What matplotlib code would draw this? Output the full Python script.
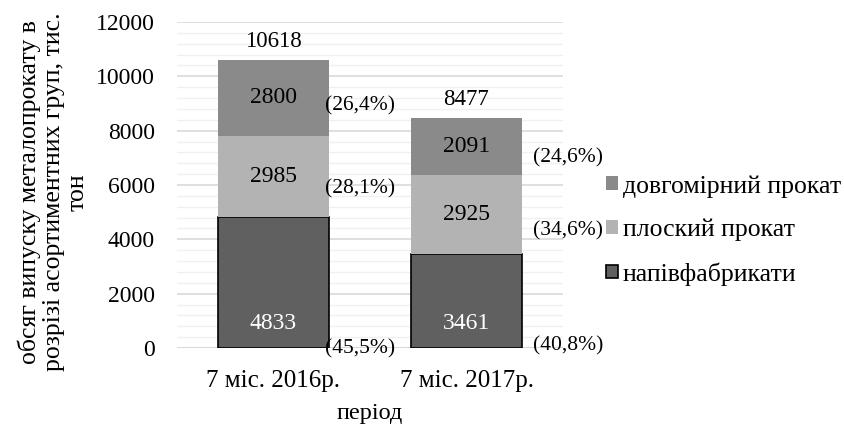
import numpy as np
import matplotlib.pyplot as plt
from matplotlib.ticker import MultipleLocator

plt.rcParams['font.family'] = ['Liberation Serif', 'DejaVu Serif']

periods = ['7 міс. 2016р.', '7 міс. 2017р.']
semi = [4833, 3461]
flat = [2985, 2925]
long_ = [2800, 2091]
totals = [10618, 8477]
pct_semi = ['(45,5%)', '(40,8%)']
pct_flat = ['(28,1%)', '(34,6%)']
pct_long = ['(26,4%)', '(24,6%)']

c_semi = '#606060'
c_flat = '#b3b3b3'
c_long = '#8a8a8a'

fig = plt.figure(figsize=(8.45, 4.28), dpi=100)
ax = fig.add_axes([177 / 845, 1 - 348 / 428, 386 / 845, 326 / 428])

x = np.arange(len(periods))
w = 0.575
semi_a = np.array(semi)
flat_a = np.array(flat)
long_a = np.array(long_)

ax.bar(x, semi_a, w, color=c_semi, edgecolor='black', linewidth=1.2,
       label='напівфабрикати', zorder=3)
ax.bar(x, flat_a, w, bottom=semi_a, color=c_flat, label='плоский прокат', zorder=3)
ax.bar(x, long_a, w, bottom=semi_a + flat_a, color=c_long,
       label='довгомірний прокат', zorder=3)

fs = 17
for i in range(len(x)):
    ax.text(x[i], 920, str(semi[i]), ha='center', va='center', color='white', fontsize=fs, zorder=4)
    ax.text(x[i], semi[i] + flat[i] / 2, str(flat[i]), ha='center', va='center', fontsize=fs, zorder=4)
    ax.text(x[i], semi[i] + flat[i] + long_[i] / 2, str(long_[i]), ha='center', va='center', fontsize=fs, zorder=4)
    ax.text(x[i], totals[i] + 680, str(totals[i]), ha='center', va='center', fontsize=16.5, zorder=4)

# percentage shares beside the bars
px = [0.448, 1.526]
py_semi = [-20, 80]
py_flat = [5850, 4330]
py_long = [8900, 7000]
for i in range(len(x)):
    ax.text(px[i], py_semi[i], pct_semi[i], ha='center', va='center', fontsize=15.5, clip_on=False, zorder=5)
    ax.text(px[i], py_flat[i], pct_flat[i], ha='center', va='center', fontsize=15.5, clip_on=False, zorder=5)
    ax.text(px[i], py_long[i], pct_long[i], ha='center', va='center', fontsize=15.5, clip_on=False, zorder=5)

ax.set_xlim(-0.5, 1.5)
ax.set_ylim(0, 12000)
ax.yaxis.set_major_locator(MultipleLocator(2000))
ax.yaxis.set_minor_locator(MultipleLocator(400))
ax.grid(axis='y', which='major', color='#d9d9d9', linewidth=1.2, zorder=0)
ax.grid(axis='y', which='minor', color='#f0f0f0', linewidth=1.0, zorder=0)
ax.set_axisbelow(True)
for s in ax.spines.values():
    s.set_visible(False)
ax.axhline(0, color='#d9d9d9', linewidth=1.5, zorder=1)
ax.tick_params(axis='both', which='both', length=0)
ax.tick_params(axis='y', pad=16, labelsize=17)
ax.tick_params(axis='x', pad=16, labelsize=18)
ax.set_xticks(x)
ax.set_xticklabels(periods)

ax.set_xlabel('період', fontsize=17.5, labelpad=8)
fig.text(53 / 845, 1 - 192 / 428,
         'обсяг випуску металопрокату в\nрозрізі асортиментних груп, тис.\nтон',
         rotation=90, ha='center', va='center', multialignment='center',
         fontsize=18.5, linespacing=1.08)

h, l = ax.get_legend_handles_labels()
leg = fig.legend(h[::-1], l[::-1], loc='upper left', bbox_to_anchor=(606 / 845, 1 - 175 / 428),
                 frameon=False, fontsize=18.5, handlelength=0.45, handleheight=0.45,
                 handletextpad=0.2, labelspacing=0.82, borderaxespad=0, borderpad=0)

plt.savefig('out.png', dpi=100)
